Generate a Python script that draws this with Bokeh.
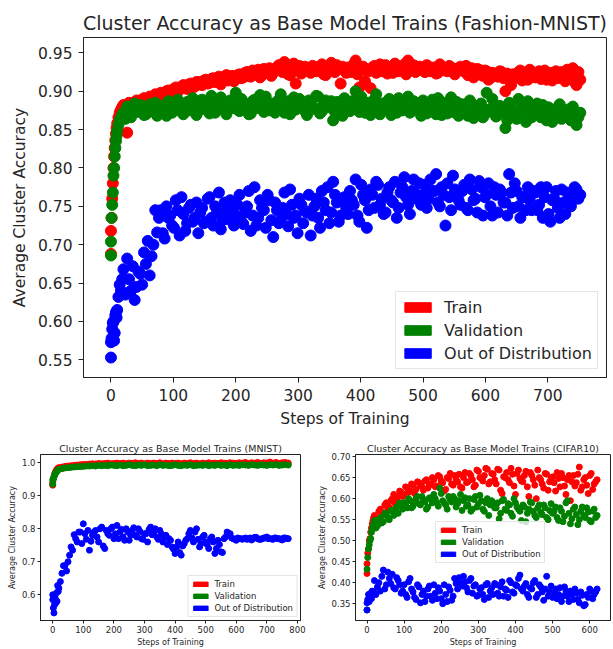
from bokeh.plotting import figure
from bokeh.layouts import column, row
from bokeh.models import FixedTicker, PrintfTickFormatter
from bokeh.embed import file_html
from bokeh.resources import INLINE

FONT = "DejaVu Sans"
TXT = "#262626"
C_TRAIN, C_VAL, C_OOD = "#ff0000", "#008000", "#0000ff"
LABELS = ["Train", "Validation", "Out of Distribution"]
NAN = float("nan")

# ---------------- Fashion-MNIST (top) ----------------
fm_steps = [0, 0, 1, 2, 3, 4, 5, 6, 7, 8, 9, 10, 12, 14, 16, 18] + list(range(20, 756, 6))
fm_steps_b = list(range(23, 756, 6))
fm_train = [0.688, 0.718, 0.735, 0.760, 0.780, 0.800, 0.815, 0.826, 0.836, 0.845, 0.852, 0.858, 0.866, 0.872, 0.876, 0.879,
            0.882, 0.846, 0.884, 0.880, 0.887, 0.889, 0.886, 0.893, 0.890, 0.895,
            0.898, 0.894, 0.901, 0.897, 0.905, 0.902, 0.908, 0.903, 0.910, 0.906,
            0.912, 0.908, 0.915, 0.911, 0.917, 0.913, 0.909, 0.918, 0.914, 0.920,
            0.916, 0.922, 0.918, 0.925, 0.919, 0.923, 0.928, 0.921, 0.926, 0.930,
            0.924, 0.931, 0.927, 0.938, 0.922, 0.929, 0.910, 0.933, 0.926, 0.930,
            0.924, 0.932, 0.928, 0.935, 0.921, 0.929, 0.926, 0.934, 0.910, 0.928,
            0.931, 0.925, 0.940, 0.905, 0.932, 0.927, 0.904, 0.933, 0.929, 0.926,
            0.934, 0.928, 0.924, 0.931, 0.927, 0.935, 0.940, 0.929, 0.925, 0.932,
            0.928, 0.934, 0.926, 0.931, 0.924, 0.930, 0.927, 0.933, 0.925, 0.929,
            0.932, 0.926, 0.921, 0.930, 0.924, 0.928, 0.920, 0.926, 0.917, 0.923,
            0.919, 0.925, 0.900, 0.916, 0.922, 0.918, 0.927, 0.920, 0.915, 0.924,
            0.918, 0.926, 0.921, 0.915, 0.924, 0.919, 0.917, 0.925, 0.913, 0.920,
            0.930, 0.908, 0.915]
fm_train_b = [0.879, 0.885, 0.883, 0.888, 0.884, 0.891, 0.888, 0.890, 0.896, 0.892,
              0.895, 0.900, 0.898, 0.903, 0.899, 0.906, 0.904, 0.909, 0.905, 0.912,
              0.909, 0.914, 0.910, 0.916, 0.912, 0.919, 0.915, 0.921, 0.917, 0.913,
              0.921, 0.917, 0.924, 0.920, 0.927, 0.922, 0.918, 0.929, 0.924, 0.920,
              0.928, 0.934, 0.925, 0.931, 0.921, 0.936, 0.928, 0.923, 0.932, 0.927,
              0.933, 0.926, 0.930, 0.922, 0.931, 0.937, 0.925, 0.929, 0.932, 0.924,
              0.928, 0.935, 0.922, 0.930, 0.913, 0.926, 0.931, 0.924, 0.935, 0.928,
              0.923, 0.930, 0.936, 0.926, 0.932, 0.922, 0.929, 0.934, 0.927, 0.931,
              0.925, 0.932, 0.928, 0.923, 0.935, 0.929, 0.926, 0.931, 0.922, 0.930,
              0.927, 0.933, 0.925, 0.918, 0.929, 0.922, 0.927, 0.915, 0.924, 0.920,
              0.926, 0.917, 0.923, 0.908, 0.921, 0.925, 0.914, 0.922, 0.928, 0.919,
              0.923, 0.916, 0.927, 0.920, 0.914, 0.926, 0.921, 0.918, 0.928, 0.922,
              0.912, 0.925]
fm_val = [0.686, 0.704, 0.735, 0.752, 0.768, 0.790, 0.800, 0.815, 0.826, 0.835, 0.842, 0.848, 0.856, 0.862, 0.866, 0.869,
          0.872, 0.880, 0.866, 0.884, 0.874, 0.878, 0.870, 0.883, 0.876, 0.868,
          0.881, 0.875, 0.887, 0.872, 0.879, 0.884, 0.870, 0.886, 0.877, 0.882,
          0.874, 0.889, 0.879, 0.871, 0.885, 0.880, 0.892, 0.876, 0.883, 0.878,
          0.898, 0.874, 0.886, 0.880, 0.871, 0.889, 0.882, 0.877, 0.893, 0.875,
          0.884, 0.879, 0.896, 0.872, 0.887, 0.881, 0.876, 0.890, 0.883, 0.869,
          0.885, 0.878, 0.893, 0.874, 0.888, 0.880, 0.862, 0.886, 0.877, 0.891,
          0.879, 0.884, 0.900, 0.873, 0.887, 0.881, 0.869, 0.889, 0.878, 0.884,
          0.876, 0.890, 0.881, 0.872, 0.886, 0.879, 0.893, 0.874, 0.883, 0.877,
          0.888, 0.871, 0.882, 0.876, 0.891, 0.869, 0.884, 0.878, 0.873, 0.886,
          0.875, 0.880, 0.868, 0.884, 0.872, 0.879, 0.866, 0.898, 0.874, 0.882,
          0.869, 0.877, 0.852, 0.885, 0.871, 0.864, 0.880, 0.873, 0.887, 0.866,
          0.876, 0.870, 0.882, 0.862, 0.875, 0.868, 0.879, 0.864, 0.873, 0.869,
          0.880, 0.856, 0.872]
fm_val_b = [0.864, 0.877, 0.871, 0.873, 0.882, 0.869, 0.880, 0.874, 0.885, 0.871,
            0.878, 0.868, 0.883, 0.876, 0.889, 0.873, 0.880, 0.875, 0.891, 0.869,
            0.884, 0.877, 0.882, 0.894, 0.872, 0.886, 0.879, 0.870, 0.888, 0.881,
            0.876, 0.890, 0.883, 0.870, 0.887, 0.878, 0.895, 0.873, 0.885, 0.880,
            0.872, 0.889, 0.877, 0.885, 0.870, 0.892, 0.879, 0.884, 0.874, 0.888,
            0.877, 0.894, 0.871, 0.883, 0.879, 0.887, 0.873, 0.881, 0.868, 0.885,
            0.874, 0.888, 0.880, 0.893, 0.872, 0.885, 0.878, 0.896, 0.870, 0.882,
            0.887, 0.869, 0.880, 0.891, 0.875, 0.884, 0.872, 0.887, 0.879, 0.868,
            0.882, 0.877, 0.889, 0.870, 0.880, 0.885, 0.871, 0.892, 0.876, 0.868,
            0.883, 0.872, 0.888, 0.865, 0.878, 0.884, 0.870, 0.876, 0.890, 0.867,
            0.881, 0.873, 0.862, 0.877, 0.868, 0.890, 0.874, 0.860, 0.879, 0.870,
            0.884, 0.866, 0.874, 0.879, 0.860, 0.871, 0.883, 0.868, 0.876, 0.862,
            0.874, 0.866]
fm_ood = [0.553, 0.573, 0.578, 0.590, 0.598, 0.600, 0.575, 0.585, 0.608, 0.612, 0.605, 0.615, 0.632, 0.648, 0.640, 0.655,
          0.668, 0.682, 0.640, 0.628, 0.665, 0.648, 0.675, 0.660, 0.700, 0.716,
          0.745, 0.708, 0.735, 0.725, 0.758, 0.712, 0.740, 0.728, 0.752, 0.735,
          0.715, 0.748, 0.730, 0.762, 0.725, 0.742, 0.720, 0.755, 0.733, 0.745,
          0.738, 0.765, 0.727, 0.750, 0.718, 0.775, 0.735, 0.748, 0.722, 0.758,
          0.710, 0.745, 0.732, 0.768, 0.724, 0.752, 0.738, 0.760, 0.728, 0.742,
          0.712, 0.750, 0.735, 0.770, 0.745, 0.728, 0.782, 0.755, 0.738, 0.762,
          0.740, 0.758, 0.785, 0.730, 0.765, 0.722, 0.772, 0.748, 0.778, 0.760,
          0.742, 0.775, 0.755, 0.735, 0.768, 0.788, 0.752, 0.770, 0.760, 0.780,
          0.765, 0.748, 0.785, 0.770, 0.755, 0.775, 0.725, 0.762, 0.790, 0.768,
          0.752, 0.778, 0.745, 0.772, 0.760, 0.783, 0.738, 0.765, 0.750, 0.775,
          0.742, 0.768, 0.755, 0.792, 0.748, 0.770, 0.735, 0.762, 0.775, 0.745,
          0.768, 0.752, 0.735, 0.775, 0.730, 0.760, 0.748, 0.772, 0.740, 0.765,
          0.758, 0.772, 0.765]
fm_ood_b = [0.635, 0.655, 0.672, 0.645, 0.662, 0.690, 0.705, 0.685, 0.745, 0.735,
            0.715, 0.750, 0.738, 0.722, 0.745, 0.762, 0.718, 0.748, 0.730, 0.755,
            0.742, 0.728, 0.760, 0.735, 0.750, 0.768, 0.732, 0.745, 0.758, 0.725,
            0.752, 0.730, 0.742, 0.770, 0.738, 0.725, 0.758, 0.745, 0.765, 0.732,
            0.755, 0.728, 0.748, 0.740, 0.772, 0.735, 0.715, 0.752, 0.744, 0.765,
            0.738, 0.760, 0.722, 0.755, 0.775, 0.742, 0.765, 0.730, 0.758, 0.748,
            0.770, 0.752, 0.738, 0.778, 0.758, 0.745, 0.765, 0.782, 0.752, 0.740,
            0.768, 0.758, 0.782, 0.748, 0.775, 0.762, 0.740, 0.785, 0.765, 0.752,
            0.778, 0.760, 0.770, 0.792, 0.750, 0.765, 0.780, 0.745, 0.772, 0.758,
            0.770, 0.748, 0.785, 0.758, 0.742, 0.775, 0.762, 0.780, 0.738, 0.765,
            0.772, 0.755, 0.738, 0.768, 0.780, 0.750, 0.762, 0.745, 0.758, 0.770,
            0.745, 0.775, 0.762, 0.740, 0.758, 0.770, 0.735, 0.755, 0.768, 0.750,
            0.775, 0.760]

# ---------------- MNIST (bottom left) ----------------
mn_steps = [0, 0, 2, 4, 6, 8, 10, 12, 14, 16, 18] + list(range(20, 771, 10))
mn_steps_b = list(range(25, 771, 10))
mn_train = [0.932, 0.940, 0.950, 0.958, 0.965, 0.970, 0.974, 0.977, 0.980, 0.982, 0.984,
            0.985, 0.987, 0.989, 0.990, 0.991, 0.992, 0.993, 0.994, 0.995, 0.995,
            0.996, 0.997, 0.996, 0.998, 0.997, 0.998, 0.999, 0.997, 0.998, 0.999,
            0.998, 0.999, 0.997, 0.999, 0.998, 1.000, 0.998, 0.999, 0.997, 0.999,
            0.998, 0.999, 0.998, 1.000, 0.997, 0.999, 0.998, 0.999, 0.998, 0.999,
            0.997, 0.999, 0.998, 1.000, 0.998, 0.999, 0.997, 0.999, 0.998, 1.000,
            0.998, 0.999, 0.998, 1.000, 0.999, 0.998, 1.000, 0.999, 0.998, 1.000,
            0.999, 1.001, 0.998, 1.000, 0.999, 1.001, 0.998, 1.000, 0.999, 1.002,
            0.999, 1.001, 0.998, 1.000, 1.001, 0.999]
mn_val = [0.935, 0.948, 0.952, 0.957, 0.962, 0.966, 0.970, 0.972, 0.975, 0.977, 0.979,
          0.980, 0.982, 0.984, 0.985, 0.986, 0.987, 0.988, 0.988, 0.989, 0.990,
          0.990, 0.991, 0.990, 0.992, 0.991, 0.992, 0.991, 0.993, 0.992, 0.991,
          0.993, 0.991, 0.992, 0.994, 0.992, 0.991, 0.993, 0.992, 0.994, 0.991,
          0.992, 0.993, 0.991, 0.994, 0.992, 0.993, 0.991, 0.992, 0.994, 0.992,
          0.991, 0.993, 0.992, 0.994, 0.991, 0.992, 0.993, 0.992, 0.994, 0.991,
          0.993, 0.992, 0.994, 0.992, 0.993, 0.991, 0.994, 0.992, 0.993, 0.992,
          0.994, 0.993, 0.992, 0.994, 0.993, 0.992, 0.994, 0.993, 0.992, 0.994,
          0.993, 0.994, 0.992, 0.993, 0.994, 0.993]
mn_ood = [0.600, 0.585, 0.560, 0.545, 0.570, 0.590, 0.575, 0.605, 0.580, 0.628, 0.610,
          0.620, 0.665, 0.688, 0.700, 0.745, 0.782, 0.760, 0.790, 0.815, 0.768,
          0.735, 0.780, 0.795, 0.760, 0.805, 0.740, 0.785, 0.800, 0.770, 0.810,
          0.790, 0.775, 0.800, 0.765, 0.795, 0.780, 0.800, 0.770, 0.785, 0.760,
          0.805, 0.790, 0.775, 0.795, 0.760, 0.780, 0.770, 0.745, 0.725, 0.760,
          0.720, 0.755, 0.770, 0.795, 0.760, 0.800, 0.745, 0.775, 0.760, 0.740,
          0.775, 0.725, 0.765, 0.730, 0.770, 0.790, 0.785, 0.770, 0.765, 0.770,
          0.768, 0.772, 0.770, 0.766, 0.774, 0.770, 0.768, 0.772, 0.775, 0.770,
          0.768, 0.772, 0.770, 0.766, 0.772, 0.770]
mn_ood_b = [0.640, 0.688, 0.672, 0.720, 0.735, 0.770, 0.790, 0.755, 0.785, 0.795,
            0.762, 0.790, 0.775, 0.800, 0.748, 0.795, 0.780, 0.805, 0.785, 0.770,
            0.798, 0.765, 0.790, 0.780, 0.803, 0.775, 0.792, 0.768, 0.785, 0.798,
            0.782, 0.800, 0.768, 0.785, 0.775, 0.752, 0.765, 0.738, 0.745, 0.728,
            0.748, 0.765, 0.785, 0.772, 0.790, 0.768, 0.755, 0.780, 0.752, 0.770,
            0.760, 0.740, 0.752, 0.728, 0.775, 0.785, 0.772, 0.768, 0.772, 0.770,
            0.770, 0.768, 0.772, 0.770, 0.774, 0.768, 0.770, 0.772, 0.770, 0.769,
            0.772, 0.770, 0.768, 0.772, 0.770]

# ---------------- CIFAR10 (bottom right) ----------------
cf_steps = [0, 0, 2, 4, 6, 8, 10, 12, 14, 16, 18] + list(range(20, 626, 8))
cf_steps_b = list(range(24, 626, 8))
cf_train = [0.422, 0.445, 0.470, 0.480, 0.500, 0.505, 0.520, 0.530, 0.540, 0.548, 0.555,
            0.560, 0.545, 0.575, 0.565, 0.590, 0.580, 0.600, 0.588, 0.605, 0.615,
            0.610, 0.625, 0.618, 0.632, 0.622, 0.638, 0.628, 0.642, 0.625, 0.635,
            0.645, 0.630, 0.652, 0.638, 0.622, 0.648, 0.635, 0.655, 0.640, 0.628,
            0.650, 0.638, 0.660, 0.645, 0.632, 0.665, 0.648, 0.655, 0.670, 0.640,
            0.658, 0.635, 0.668, 0.612, 0.650, 0.645, 0.672, 0.630, 0.660, 0.648,
            0.640, 0.665, 0.605, 0.655, 0.632, 0.668, 0.645, 0.625, 0.658, 0.640,
            0.652, 0.618, 0.648, 0.660, 0.630, 0.645, 0.595, 0.655, 0.638, 0.675,
            0.628, 0.650, 0.612, 0.660, 0.635, 0.645]
cf_train_b = [0.552, 0.570, 0.560, 0.585, 0.575, 0.595, 0.610, 0.598, 0.618, 0.605,
              0.628, 0.615, 0.635, 0.612, 0.640, 0.630, 0.620, 0.645, 0.632, 0.650,
              0.628, 0.655, 0.642, 0.618, 0.650, 0.660, 0.632, 0.645, 0.658, 0.625,
              0.662, 0.640, 0.655, 0.628, 0.668, 0.650, 0.642, 0.672, 0.635, 0.660,
              0.645, 0.670, 0.620, 0.652, 0.662, 0.638, 0.658, 0.610, 0.668, 0.642,
              0.655, 0.628, 0.662, 0.645, 0.600, 0.650, 0.635, 0.660, 0.620, 0.648,
              0.638, 0.662, 0.628, 0.650, 0.610, 0.655, 0.640, 0.630, 0.658, 0.620,
              0.645, 0.632, 0.655, 0.622, 0.640]
cf_val = [0.335, 0.432, 0.460, 0.480, 0.490, 0.500, 0.505, 0.520, 0.528, 0.535, 0.540,
          0.548, 0.535, 0.555, 0.545, 0.562, 0.550, 0.570, 0.575, 0.565, 0.585,
          0.590, 0.578, 0.595, 0.582, 0.600, 0.588, 0.605, 0.592, 0.580, 0.598,
          0.610, 0.590, 0.625, 0.595, 0.585, 0.605, 0.592, 0.600, 0.588, 0.610,
          0.595, 0.582, 0.600, 0.575, 0.605, 0.588, 0.595, 0.570, 0.600, 0.585,
          0.590, 0.578, 0.552, 0.595, 0.575, 0.588, 0.565, 0.600, 0.580, 0.570,
          0.585, 0.545, 0.575, 0.590, 0.560, 0.578, 0.568, 0.585, 0.555, 0.572,
          0.565, 0.580, 0.548, 0.570, 0.558, 0.595, 0.540, 0.575, 0.562, 0.550,
          0.580, 0.555, 0.568, 0.545, 0.575, 0.560]
cf_val_b = [0.530, 0.550, 0.542, 0.565, 0.555, 0.572, 0.560, 0.580, 0.590, 0.575,
            0.585, 0.600, 0.578, 0.592, 0.605, 0.585, 0.598, 0.575, 0.602, 0.590,
            0.600, 0.582, 0.612, 0.590, 0.575, 0.598, 0.605, 0.580, 0.595, 0.572,
            0.602, 0.585, 0.570, 0.598, 0.580, 0.608, 0.575, 0.590, 0.560, 0.595,
            0.578, 0.590, 0.565, 0.598, 0.572, 0.585, 0.558, 0.590, 0.575, 0.548,
            0.580, 0.565, 0.592, 0.570, 0.555, 0.585, 0.562, 0.578, 0.550, 0.588,
            0.570, 0.555, 0.578, 0.545, 0.590, 0.565, 0.552, 0.580, 0.538, 0.570,
            0.560, 0.578, 0.548, 0.570, 0.555]
cf_ood = [0.335, 0.352, 0.360, 0.372, 0.355, 0.368, 0.375, 0.362, 0.380, 0.370, 0.378,
          0.405, 0.390, 0.380, 0.430, 0.395, 0.410, 0.420, 0.385, 0.405, 0.375,
          0.395, 0.365, 0.410, 0.378, 0.360, 0.390, 0.372, 0.355, 0.385, 0.368,
          0.395, 0.362, 0.380, 0.350, 0.372, 0.390, 0.358, 0.410, 0.385, 0.400,
          0.415, 0.388, 0.405, 0.375, 0.395, 0.370, 0.388, 0.360, 0.398, 0.380,
          0.372, 0.395, 0.368, 0.402, 0.385, 0.365, 0.400, 0.375, 0.392, 0.418,
          0.380, 0.398, 0.365, 0.385, 0.405, 0.372, 0.390, 0.358, 0.415, 0.378,
          0.365, 0.385, 0.372, 0.355, 0.390, 0.368, 0.380, 0.360, 0.375, 0.352,
          0.370, 0.348, 0.365, 0.380, 0.372, 0.385]
cf_ood_b = [0.372, 0.400, 0.415, 0.385, 0.425, 0.398, 0.388, 0.412, 0.395, 0.380,
            0.372, 0.402, 0.385, 0.365, 0.395, 0.352, 0.380, 0.368, 0.392, 0.358,
            0.375, 0.388, 0.362, 0.395, 0.355, 0.382, 0.368, 0.398, 0.412, 0.392,
            0.402, 0.378, 0.410, 0.392, 0.368, 0.385, 0.372, 0.395, 0.365, 0.388,
            0.398, 0.375, 0.390, 0.368, 0.382, 0.405, 0.378, 0.395, 0.410, 0.385,
            0.392, 0.372, 0.388, 0.400, 0.365, 0.395, 0.378, 0.385, 0.368, 0.392,
            0.375, 0.362, 0.388, 0.368, 0.380, 0.355, 0.372, 0.385, 0.360, 0.378,
            0.345, 0.372, 0.385, 0.362, 0.378]

fm_xticks = [0, 100, 200, 300, 400, 500, 600, 700]
fm_yticks = [0.55, 0.60, 0.65, 0.70, 0.75, 0.80, 0.85, 0.90, 0.95]
mn_xticks = [0, 100, 200, 300, 400, 500, 600, 700, 800]
mn_yticks = [0.6, 0.7, 0.8, 0.9, 1.0]
cf_xticks = [0, 100, 200, 300, 400, 500, 600]
cf_yticks = [0.35, 0.40, 0.45, 0.50, 0.55, 0.60, 0.65, 0.70]


def make_panel(title, groups, w, h, xr, yr, borders, xticks, yticks, yfmt,
               title_fs, tick_fs, label_fs, legend_fs, msize, tick_len, title_standoff,
               lab_standoff, axlab_standoff, legend_cfg):
    bl, br, bt, bb = borders
    p = figure(width=w, height=h, x_range=xr, y_range=yr, title=title,
               output_backend="svg", toolbar_location=None,
               min_border_left=bl, min_border_right=br, min_border_top=bt, min_border_bottom=bb)
    p.background_fill_color = "white"
    p.border_fill_color = "white"
    p.outline_line_color = "#222222"
    p.outline_line_width = 1
    p.xgrid.grid_line_color = None
    p.ygrid.grid_line_color = None
    p.title.text_font = FONT
    p.title.text_font_size = title_fs
    p.title.text_font_style = "normal"
    p.title.text_color = TXT
    p.title.align = "center"
    p.title.standoff = title_standoff
    p.xaxis.axis_label = "Steps of Training"
    p.yaxis.axis_label = "Average Cluster Accuracy"
    p.xaxis.ticker = FixedTicker(ticks=xticks)
    p.yaxis.ticker = FixedTicker(ticks=yticks)
    p.yaxis.formatter = PrintfTickFormatter(format=yfmt)
    for ax in (p.xaxis[0], p.yaxis[0]):
        ax.axis_line_color = "#222222"
        ax.major_tick_line_color = "#222222"
        ax.major_tick_out = tick_len
        ax.major_tick_in = 0
        ax.minor_tick_line_color = None
        ax.major_label_text_font = FONT
        ax.major_label_text_font_size = tick_fs
        ax.major_label_text_color = TXT
        ax.major_label_standoff = lab_standoff
        ax.axis_label_text_font = FONT
        ax.axis_label_text_font_size = label_fs
        ax.axis_label_text_font_style = "normal"
        ax.axis_label_text_color = TXT
        ax.axis_label_standoff = axlab_standoff

    colors = [C_TRAIN, C_VAL, C_OOD]
    for sets, c in zip(groups, colors):
        for steps, vals in sets:
            n = min(len(steps), len(vals))
            p.scatter(x=steps[:n], y=vals[:n], size=msize, fill_color=c, line_color=c)
    for lab, c in zip(LABELS, colors):
        p.quad(left=[NAN], right=[NAN], bottom=[NAN], top=[NAN],
               fill_color=c, line_color=c, legend_label=lab)

    lg = p.legend[0]
    loc, margin, padding, spacing, gw, gh, lh, ls = legend_cfg
    lg.location = loc
    lg.margin = margin
    lg.padding = padding
    lg.spacing = spacing
    lg.glyph_width = gw
    lg.glyph_height = gh
    lg.label_height = lh
    lg.label_standoff = ls
    lg.label_text_font = FONT
    lg.label_text_font_size = legend_fs
    lg.label_text_color = TXT
    lg.border_line_color = "#cccccc"
    lg.border_line_width = 1
    lg.background_fill_alpha = 0.8
    return p


top = make_panel("Cluster Accuracy as Base Model Trains (Fashion-MNIST)",
                 [[(fm_steps, fm_train), (fm_steps_b, fm_train_b)],
                  [(fm_steps, fm_val), (fm_steps_b, fm_val_b)],
                  [(fm_steps, fm_ood), (fm_steps_b, fm_ood_b)]],
                 613, 433, (-44, 794), (0.527, 0.97),
                 (83, 7, 37, 56), fm_xticks, fm_yticks, "%.2f",
                 "19px", "15.5px", "15.5px", "16px", 11, 5, 8, 6, 6,
                 ("bottom_right", 8, 5, 3, 33, 12, 20, 10))

left = make_panel("Cluster Accuracy as Base Model Trains (MNIST)",
                  [[(mn_steps, mn_train)], [(mn_steps, mn_val)],
                   [(mn_steps, mn_ood), (mn_steps_b, mn_ood_b)]],
                  310, 216, (-40, 810), (0.522, 1.025),
                  (40, 10, 21, 26), mn_xticks, mn_yticks, "%.1f",
                  "9.5px", "8.5px", "8px", "8.5px", 6, 3, 2, 2, 2,
                  ("bottom_right", 3, 3, 2, 18, 6, 10, 5))

right = make_panel("Cluster Accuracy as Base Model Trains (CIFAR10)",
                   [[(cf_steps, cf_train), (cf_steps_b, cf_train_b)],
                    [(cf_steps, cf_val), (cf_steps_b, cf_val_b)],
                    [(cf_steps, cf_ood), (cf_steps_b, cf_ood_b)]],
                   303, 216, (-31, 656), (0.31, 0.705),
                   (45, 3, 21, 26), cf_xticks, cf_yticks, "%.2f",
                   "9.5px", "8.5px", "8px", "8.5px", 6, 3, 2, 2, 2,
                   ((80, 57), 0, 3, 2, 18, 6, 10, 5))

layout = column(top, row(left, right, spacing=0), spacing=0)

open("out.html", "w").write(file_html(layout, INLINE))
